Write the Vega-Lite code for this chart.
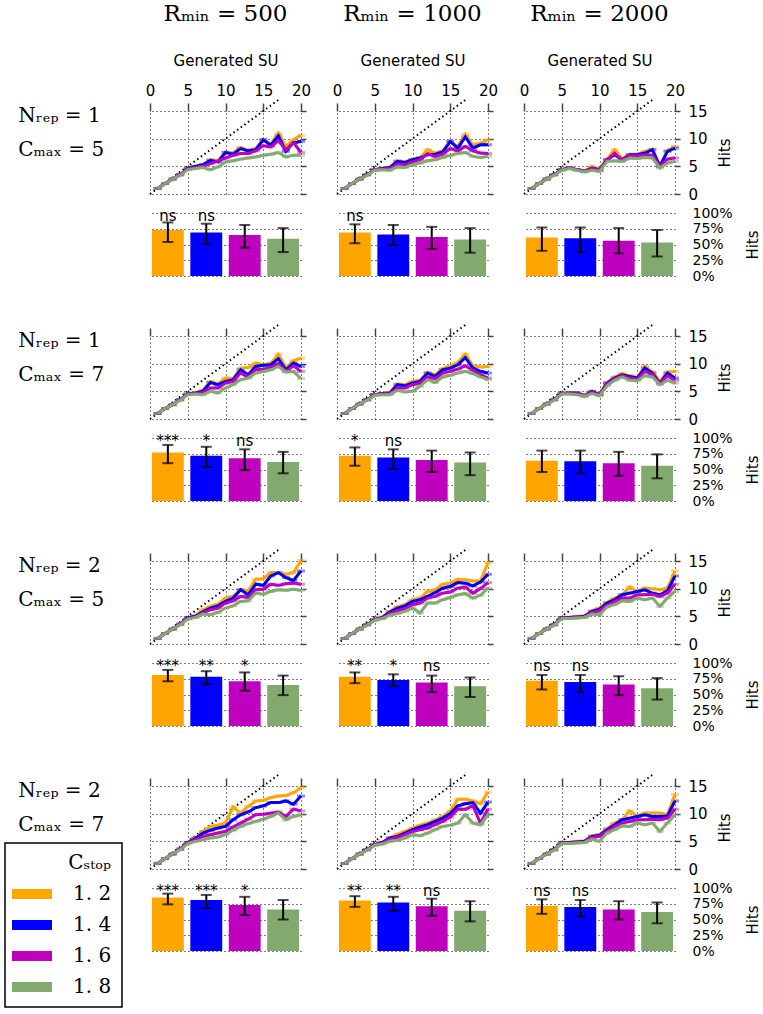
{
"$schema": "https://vega.github.io/schema/vega-lite/v6.json",
"padding": {"left": 0, "top": 3, "right": 0, "bottom": 0},
"background": "white",
"datasets": {
"diag": [{"x": 0, "y": 0}, {"x": 17, "y": 17}],
"empty": [],
"labels": [
{"p": "1,5", "t": "Nᵣₑₚ = 1\nCₘₐₓ = 5"},
{"p": "1,7", "t": "Nᵣₑₚ = 1\nCₘₐₓ = 7"},
{"p": "2,5", "t": "Nᵣₑₚ = 2\nCₘₐₓ = 5"},
{"p": "2,7", "t": "Nᵣₑₚ = 2\nCₘₐₓ = 7"}
],
"lines": [
{"r":500,"p":"1,5","c":"1.2","x":[1,2,3,4,5,6,7,8,9,10,11,12,13,14,15,16,17,18,19,20],"y":[1.0,1.9,2.7,3.5,4.6,5.0,5.3,6.2,6.0,7.6,7.4,8.4,7.9,8.2,9.9,9.0,11.0,8.6,9.8,10.6]},
{"r":500,"p":"1,5","c":"1.4","x":[1,2,3,4,5,6,7,8,9,10,11,12,13,14,15,16,17,18,19,20],"y":[1.0,1.9,2.7,3.5,4.6,5.0,5.3,6.1,5.8,7.5,7.2,8.2,7.8,8.0,9.8,8.8,10.5,7.7,9.3,9.5]},
{"r":500,"p":"1,5","c":"1.6","x":[1,2,3,4,5,6,7,8,9,10,11,12,13,14,15,16,17,18,19,20],"y":[1.0,1.9,2.7,3.5,4.5,4.8,5.0,5.5,6.0,6.5,7.0,7.3,7.3,7.8,8.7,8.5,9.6,8.0,9.3,7.5]},
{"r":500,"p":"1,5","c":"1.8","x":[1,2,3,4,5,6,7,8,9,10,11,12,13,14,15,16,17,18,19,20],"y":[1.0,1.9,2.7,3.4,4.4,4.6,4.8,4.4,4.9,5.8,6.0,6.3,6.5,6.7,7.0,7.2,7.5,6.7,7.0,7.0]},
{"r":1000,"p":"1,5","c":"1.2","x":[1,2,3,4,5,6,7,8,9,10,11,12,13,14,15,16,17,18,19,20],"y":[1.0,1.9,2.7,3.5,4.4,4.6,4.8,6.0,5.8,6.3,6.6,8.0,7.4,7.8,9.4,8.6,10.8,8.9,9.2,9.8]},
{"r":1000,"p":"1,5","c":"1.4","x":[1,2,3,4,5,6,7,8,9,10,11,12,13,14,15,16,17,18,19,20],"y":[1.0,1.9,2.7,3.5,4.4,4.6,4.8,5.9,5.7,6.2,6.5,7.1,7.2,7.6,9.5,8.3,10.3,8.3,8.9,8.9]},
{"r":1000,"p":"1,5","c":"1.6","x":[1,2,3,4,5,6,7,8,9,10,11,12,13,14,15,16,17,18,19,20],"y":[1.0,1.9,2.7,3.5,4.4,4.5,4.6,5.4,5.3,5.8,6.2,7.3,6.8,7.2,8.2,7.8,8.6,7.8,7.4,7.3]},
{"r":1000,"p":"1,5","c":"1.8","x":[1,2,3,4,5,6,7,8,9,10,11,12,13,14,15,16,17,18,19,20],"y":[1.0,1.9,2.7,3.4,4.3,4.4,4.3,4.9,4.8,5.3,5.6,6.0,6.2,6.6,7.0,7.3,7.5,6.8,6.6,6.8]},
{"r":2000,"p":"1,5","c":"1.2","x":[1,2,3,4,5,6,7,8,9,10,11,12,13,14,15,16,17,18,19,20],"y":[1.0,1.9,2.7,3.5,4.4,4.7,4.4,4.1,5.0,4.5,6.3,8.0,6.4,7.2,7.2,7.7,8.1,5.2,7.9,8.6]},
{"r":2000,"p":"1,5","c":"1.4","x":[1,2,3,4,5,6,7,8,9,10,11,12,13,14,15,16,17,18,19,20],"y":[1.0,1.9,2.7,3.5,4.4,4.7,4.4,4.1,4.7,4.4,6.2,7.1,6.2,7.1,7.1,7.4,8.0,5.0,7.7,8.3]},
{"r":2000,"p":"1,5","c":"1.6","x":[1,2,3,4,5,6,7,8,9,10,11,12,13,14,15,16,17,18,19,20],"y":[1.0,1.9,2.7,3.5,4.4,4.7,4.4,4.1,4.6,4.3,6.1,7.4,6.1,6.9,6.9,7.1,7.0,5.0,6.3,6.5]},
{"r":2000,"p":"1,5","c":"1.8","x":[1,2,3,4,5,6,7,8,9,10,11,12,13,14,15,16,17,18,19,20],"y":[1.0,1.9,2.7,3.4,4.3,4.6,4.3,4.0,4.3,4.1,5.9,6.0,5.9,6.5,6.4,6.6,6.5,4.7,5.6,5.9]},
{"r":500,"p":"1,7","c":"1.2","x":[1,2,3,4,5,6,7,8,9,10,11,12,13,14,15,16,17,18,19,20],"y":[1.0,1.9,2.6,3.5,4.5,4.7,5.2,6.8,6.4,7.4,7.3,9.2,9.3,10.1,9.8,10.1,11.7,9.3,10.5,11.0]},
{"r":500,"p":"1,7","c":"1.4","x":[1,2,3,4,5,6,7,8,9,10,11,12,13,14,15,16,17,18,19,20],"y":[1.0,1.9,2.6,3.5,4.5,4.7,5.0,6.6,6.2,6.8,7.1,8.9,8.0,9.5,9.7,9.8,10.9,8.9,10.1,9.5]},
{"r":500,"p":"1,7","c":"1.6","x":[1,2,3,4,5,6,7,8,9,10,11,12,13,14,15,16,17,18,19,20],"y":[1.0,1.9,2.6,3.5,4.5,4.6,4.8,5.6,5.6,6.5,6.8,8.3,7.6,8.9,9.0,9.3,10.0,8.6,9.6,8.6]},
{"r":500,"p":"1,7","c":"1.8","x":[1,2,3,4,5,6,7,8,9,10,11,12,13,14,15,16,17,18,19,20],"y":[1.0,1.9,2.6,3.4,4.4,4.5,4.4,5.0,4.7,5.6,6.2,7.1,7.4,8.3,8.6,8.9,9.5,8.5,8.6,7.3]},
{"r":1000,"p":"1,7","c":"1.2","x":[1,2,3,4,5,6,7,8,9,10,11,12,13,14,15,16,17,18,19,20],"y":[1.0,1.9,2.7,3.5,4.4,4.6,4.8,6.3,6.2,6.8,7.0,8.4,8.0,9.1,9.6,10.2,11.7,9.6,9.4,9.5]},
{"r":1000,"p":"1,7","c":"1.4","x":[1,2,3,4,5,6,7,8,9,10,11,12,13,14,15,16,17,18,19,20],"y":[1.0,1.9,2.7,3.5,4.4,4.6,4.7,6.2,6.0,6.5,6.8,8.3,7.7,8.9,9.2,9.8,11.1,9.2,8.6,8.3]},
{"r":1000,"p":"1,7","c":"1.6","x":[1,2,3,4,5,6,7,8,9,10,11,12,13,14,15,16,17,18,19,20],"y":[1.0,1.9,2.7,3.5,4.4,4.5,4.6,5.6,5.6,6.2,6.5,7.6,7.3,8.3,8.6,9.0,9.6,8.8,8.0,7.4]},
{"r":1000,"p":"1,7","c":"1.8","x":[1,2,3,4,5,6,7,8,9,10,11,12,13,14,15,16,17,18,19,20],"y":[1.0,1.9,2.7,3.4,4.3,4.4,4.4,5.2,4.9,5.0,5.9,7.1,6.6,7.6,7.9,8.3,8.6,8.2,7.6,7.1]},
{"r":2000,"p":"1,7","c":"1.2","x":[1,2,3,4,5,6,7,8,9,10,11,12,13,14,15,16,17,18,19,20],"y":[1.0,1.9,2.7,3.5,4.6,4.7,4.7,4.3,5.0,4.5,6.6,7.6,8.2,7.8,7.5,9.5,8.5,6.8,8.5,8.6]},
{"r":2000,"p":"1,7","c":"1.4","x":[1,2,3,4,5,6,7,8,9,10,11,12,13,14,15,16,17,18,19,20],"y":[1.0,1.9,2.7,3.5,4.6,4.7,4.7,4.2,5.0,4.4,6.5,7.4,8.0,7.7,7.4,9.2,8.3,6.5,8.3,7.4]},
{"r":2000,"p":"1,7","c":"1.6","x":[1,2,3,4,5,6,7,8,9,10,11,12,13,14,15,16,17,18,19,20],"y":[1.0,1.9,2.7,3.5,4.6,4.6,4.6,4.2,4.8,4.4,6.3,7.2,7.8,7.4,7.2,8.6,8.0,6.5,7.8,7.0]},
{"r":2000,"p":"1,7","c":"1.8","x":[1,2,3,4,5,6,7,8,9,10,11,12,13,14,15,16,17,18,19,20],"y":[1.0,1.9,2.7,3.4,4.5,4.5,4.4,4.1,4.6,4.2,6.0,7.0,7.6,7.0,6.9,7.8,7.6,6.2,7.0,6.5]},
{"r":500,"p":"2,5","c":"1.2","x":[1,2,3,4,5,6,7,8,9,10,11,12,13,14,15,16,17,18,19,20],"y":[1.0,1.9,2.7,3.6,4.7,5.1,6.2,6.8,7.2,8.3,8.6,9.8,9.6,11.7,11.8,12.9,12.9,12.6,12.9,15.1]},
{"r":500,"p":"2,5","c":"1.4","x":[1,2,3,4,5,6,7,8,9,10,11,12,13,14,15,16,17,18,19,20],"y":[1.0,1.9,2.7,3.6,4.7,5.0,5.8,6.5,6.9,7.7,8.3,9.8,8.9,10.8,10.6,12.3,12.9,12.0,11.5,13.2]},
{"r":500,"p":"2,5","c":"1.6","x":[1,2,3,4,5,6,7,8,9,10,11,12,13,14,15,16,17,18,19,20],"y":[1.0,1.9,2.7,3.6,4.6,4.9,5.6,6.2,6.5,7.4,7.8,8.6,8.4,9.8,9.9,10.8,10.6,10.9,11.0,10.8]},
{"r":500,"p":"2,5","c":"1.8","x":[1,2,3,4,5,6,7,8,9,10,11,12,13,14,15,16,17,18,19,20],"y":[1.0,1.9,2.7,3.5,4.5,4.8,5.4,5.3,5.7,6.5,6.9,7.7,7.8,9.2,9.0,9.5,9.8,9.7,9.9,9.7]},
{"r":1000,"p":"2,5","c":"1.2","x":[1,2,3,4,5,6,7,8,9,10,11,12,13,14,15,16,17,18,19,20],"y":[1.0,1.9,2.7,3.5,4.4,4.9,5.9,6.7,7.1,8.0,8.3,9.5,9.8,10.8,11.0,11.7,11.6,11.4,11.4,14.7]},
{"r":1000,"p":"2,5","c":"1.4","x":[1,2,3,4,5,6,7,8,9,10,11,12,13,14,15,16,17,18,19,20],"y":[1.0,1.9,2.7,3.5,4.4,4.8,5.8,6.5,6.9,7.7,8.0,8.6,9.3,10.1,10.4,11.1,11.0,10.5,11.2,12.6]},
{"r":1000,"p":"2,5","c":"1.6","x":[1,2,3,4,5,6,7,8,9,10,11,12,13,14,15,16,17,18,19,20],"y":[1.0,1.9,2.7,3.5,4.4,4.7,5.5,6.0,6.4,7.1,7.4,8.3,8.6,9.2,9.4,10.1,10.3,9.2,10.0,11.1]},
{"r":1000,"p":"2,5","c":"1.8","x":[1,2,3,4,5,6,7,8,9,10,11,12,13,14,15,16,17,18,19,20],"y":[1.0,1.9,2.7,3.4,4.3,4.6,5.2,5.5,5.9,6.5,5.6,7.4,7.4,8.0,8.4,8.9,9.1,8.3,8.8,10.1]},
{"r":2000,"p":"2,5","c":"1.2","x":[1,2,3,4,5,6,7,8,9,10,11,12,13,14,15,16,17,18,19,20],"y":[1.0,1.9,2.7,3.5,4.7,4.8,5.0,5.0,6.0,6.5,7.5,8.3,8.9,10.3,9.5,10.1,10.0,9.8,10.1,13.2]},
{"r":2000,"p":"2,5","c":"1.4","x":[1,2,3,4,5,6,7,8,9,10,11,12,13,14,15,16,17,18,19,20],"y":[1.0,1.9,2.7,3.5,4.7,4.8,4.9,5.0,5.9,6.3,7.4,8.0,8.9,9.2,9.5,9.8,9.2,8.9,9.6,12.3]},
{"r":2000,"p":"2,5","c":"1.6","x":[1,2,3,4,5,6,7,8,9,10,11,12,13,14,15,16,17,18,19,20],"y":[1.0,1.9,2.7,3.5,4.7,4.7,4.8,4.9,5.7,6.0,7.0,7.7,8.3,8.3,8.9,8.9,9.0,8.6,9.2,10.8]},
{"r":2000,"p":"2,5","c":"1.8","x":[1,2,3,4,5,6,7,8,9,10,11,12,13,14,15,16,17,18,19,20],"y":[1.0,1.9,2.7,3.4,4.6,4.6,4.7,4.8,5.4,5.3,6.7,7.1,7.8,7.7,8.3,8.0,8.3,6.8,8.3,9.5]},
{"r":500,"p":"2,7","c":"1.2","x":[1,2,3,4,5,6,7,8,9,10,11,12,13,14,15,16,17,18,19,20],"y":[1.0,1.9,2.7,3.6,4.8,5.6,6.8,7.7,7.9,8.3,11.2,10.1,11.3,12.3,12.4,12.9,13.2,13.3,13.8,14.7]},
{"r":500,"p":"2,7","c":"1.4","x":[1,2,3,4,5,6,7,8,9,10,11,12,13,14,15,16,17,18,19,20],"y":[1.0,1.9,2.7,3.6,4.8,5.5,6.5,7.0,7.4,7.7,8.9,9.8,10.3,11.1,11.4,12.0,12.0,12.3,11.7,13.2]},
{"r":500,"p":"2,7","c":"1.6","x":[1,2,3,4,5,6,7,8,9,10,11,12,13,14,15,16,17,18,19,20],"y":[1.0,1.9,2.7,3.6,4.7,5.3,5.9,6.2,6.5,6.8,7.6,8.3,9.0,9.8,9.9,10.1,10.3,9.5,10.8,10.5]},
{"r":500,"p":"2,7","c":"1.8","x":[1,2,3,4,5,6,7,8,9,10,11,12,13,14,15,16,17,18,19,20],"y":[1.0,1.9,2.7,3.5,4.6,5.0,5.3,5.6,5.8,6.2,7.0,7.7,8.2,8.6,9.0,9.5,10.1,8.9,9.5,9.8]},
{"r":1000,"p":"2,7","c":"1.2","x":[1,2,3,4,5,6,7,8,9,10,11,12,13,14,15,16,17,18,19,20],"y":[1.0,1.9,2.7,3.5,4.4,4.8,5.6,6.3,6.8,7.4,7.9,8.3,8.9,9.5,10.5,12.6,12.6,12.3,11.8,13.9]},
{"r":1000,"p":"2,7","c":"1.4","x":[1,2,3,4,5,6,7,8,9,10,11,12,13,14,15,16,17,18,19,20],"y":[1.0,1.9,2.7,3.5,4.4,4.8,5.6,5.9,6.5,7.1,7.6,8.0,8.6,9.2,10.0,11.4,11.8,12.0,10.1,12.1]},
{"r":1000,"p":"2,7","c":"1.6","x":[1,2,3,4,5,6,7,8,9,10,11,12,13,14,15,16,17,18,19,20],"y":[1.0,1.9,2.7,3.5,4.4,4.7,5.4,5.7,6.2,6.8,7.1,7.4,8.0,8.6,9.4,10.8,10.8,11.4,8.3,10.8]},
{"r":1000,"p":"2,7","c":"1.8","x":[1,2,3,4,5,6,7,8,9,10,11,12,13,14,15,16,17,18,19,20],"y":[1.0,1.9,2.7,3.4,4.3,4.5,5.0,5.2,5.6,6.2,6.0,6.5,7.1,7.7,7.9,8.3,9.8,8.3,8.0,9.8]},
{"r":2000,"p":"2,7","c":"1.2","x":[1,2,3,4,5,6,7,8,9,10,11,12,13,14,15,16,17,18,19,20],"y":[1.0,1.9,2.7,3.5,4.7,4.8,5.0,5.0,6.0,6.2,7.3,8.3,8.9,10.5,9.6,10.1,10.1,10.1,9.8,13.5]},
{"r":2000,"p":"2,7","c":"1.4","x":[1,2,3,4,5,6,7,8,9,10,11,12,13,14,15,16,17,18,19,20],"y":[1.0,1.9,2.7,3.5,4.7,4.8,4.9,5.0,5.9,6.1,7.1,8.0,8.9,9.2,9.5,9.8,9.5,9.5,9.6,12.3]},
{"r":2000,"p":"2,7","c":"1.6","x":[1,2,3,4,5,6,7,8,9,10,11,12,13,14,15,16,17,18,19,20],"y":[1.0,1.9,2.7,3.5,4.7,4.7,4.8,4.9,5.7,5.9,6.8,7.7,8.3,8.6,8.9,8.9,9.0,8.9,9.2,10.8]},
{"r":2000,"p":"2,7","c":"1.8","x":[1,2,3,4,5,6,7,8,9,10,11,12,13,14,15,16,17,18,19,20],"y":[1.0,1.9,2.7,3.4,4.6,4.6,4.7,4.8,5.4,5.0,6.5,7.1,7.8,7.7,8.3,8.0,8.3,6.8,8.3,9.8]}
],
"bars": [
{"r":500,"p":"1,5","c":"1.2","v":0.73,"lo":0.54,"hi":0.85,"s":"ns"},
{"r":500,"p":"1,5","c":"1.4","v":0.69,"lo":0.51,"hi":0.83,"s":"ns"},
{"r":500,"p":"1,5","c":"1.6","v":0.65,"lo":0.45,"hi":0.81,"s":""},
{"r":500,"p":"1,5","c":"1.8","v":0.59,"lo":0.38,"hi":0.76,"s":""},
{"r":1000,"p":"1,5","c":"1.2","v":0.69,"lo":0.52,"hi":0.82,"s":"ns"},
{"r":1000,"p":"1,5","c":"1.4","v":0.66,"lo":0.49,"hi":0.81,"s":""},
{"r":1000,"p":"1,5","c":"1.6","v":0.62,"lo":0.43,"hi":0.78,"s":""},
{"r":1000,"p":"1,5","c":"1.8","v":0.58,"lo":0.37,"hi":0.76,"s":""},
{"r":2000,"p":"1,5","c":"1.2","v":0.61,"lo":0.40,"hi":0.77,"s":""},
{"r":2000,"p":"1,5","c":"1.4","v":0.60,"lo":0.38,"hi":0.77,"s":""},
{"r":2000,"p":"1,5","c":"1.6","v":0.56,"lo":0.36,"hi":0.76,"s":""},
{"r":2000,"p":"1,5","c":"1.8","v":0.53,"lo":0.31,"hi":0.73,"s":""},
{"r":500,"p":"1,7","c":"1.2","v":0.77,"lo":0.60,"hi":0.89,"s":"***"},
{"r":500,"p":"1,7","c":"1.4","v":0.72,"lo":0.54,"hi":0.86,"s":"*"},
{"r":500,"p":"1,7","c":"1.6","v":0.68,"lo":0.49,"hi":0.82,"s":"ns"},
{"r":500,"p":"1,7","c":"1.8","v":0.62,"lo":0.44,"hi":0.78,"s":""},
{"r":1000,"p":"1,7","c":"1.2","v":0.72,"lo":0.56,"hi":0.85,"s":"*"},
{"r":1000,"p":"1,7","c":"1.4","v":0.69,"lo":0.51,"hi":0.82,"s":"ns"},
{"r":1000,"p":"1,7","c":"1.6","v":0.65,"lo":0.46,"hi":0.80,"s":""},
{"r":1000,"p":"1,7","c":"1.8","v":0.61,"lo":0.41,"hi":0.77,"s":""},
{"r":2000,"p":"1,7","c":"1.2","v":0.64,"lo":0.46,"hi":0.80,"s":""},
{"r":2000,"p":"1,7","c":"1.4","v":0.63,"lo":0.44,"hi":0.80,"s":""},
{"r":2000,"p":"1,7","c":"1.6","v":0.60,"lo":0.40,"hi":0.78,"s":""},
{"r":2000,"p":"1,7","c":"1.8","v":0.56,"lo":0.36,"hi":0.74,"s":""},
{"r":500,"p":"2,5","c":"1.2","v":0.81,"lo":0.71,"hi":0.89,"s":"***"},
{"r":500,"p":"2,5","c":"1.4","v":0.78,"lo":0.66,"hi":0.87,"s":"**"},
{"r":500,"p":"2,5","c":"1.6","v":0.71,"lo":0.56,"hi":0.85,"s":"*"},
{"r":500,"p":"2,5","c":"1.8","v":0.65,"lo":0.49,"hi":0.80,"s":""},
{"r":1000,"p":"2,5","c":"1.2","v":0.78,"lo":0.68,"hi":0.85,"s":"**"},
{"r":1000,"p":"2,5","c":"1.4","v":0.73,"lo":0.63,"hi":0.82,"s":"*"},
{"r":1000,"p":"2,5","c":"1.6","v":0.69,"lo":0.54,"hi":0.80,"s":"ns"},
{"r":1000,"p":"2,5","c":"1.8","v":0.63,"lo":0.46,"hi":0.77,"s":""},
{"r":2000,"p":"2,5","c":"1.2","v":0.72,"lo":0.58,"hi":0.81,"s":"ns"},
{"r":2000,"p":"2,5","c":"1.4","v":0.70,"lo":0.54,"hi":0.81,"s":"ns"},
{"r":2000,"p":"2,5","c":"1.6","v":0.66,"lo":0.49,"hi":0.79,"s":""},
{"r":2000,"p":"2,5","c":"1.8","v":0.60,"lo":0.42,"hi":0.76,"s":""},
{"r":500,"p":"2,7","c":"1.2","v":0.85,"lo":0.74,"hi":0.91,"s":"***"},
{"r":500,"p":"2,7","c":"1.4","v":0.81,"lo":0.68,"hi":0.89,"s":"***"},
{"r":500,"p":"2,7","c":"1.6","v":0.73,"lo":0.57,"hi":0.86,"s":"*"},
{"r":500,"p":"2,7","c":"1.8","v":0.66,"lo":0.50,"hi":0.81,"s":""},
{"r":1000,"p":"2,7","c":"1.2","v":0.80,"lo":0.70,"hi":0.87,"s":"**"},
{"r":1000,"p":"2,7","c":"1.4","v":0.77,"lo":0.64,"hi":0.86,"s":"**"},
{"r":1000,"p":"2,7","c":"1.6","v":0.71,"lo":0.56,"hi":0.83,"s":"ns"},
{"r":1000,"p":"2,7","c":"1.8","v":0.64,"lo":0.47,"hi":0.79,"s":""},
{"r":2000,"p":"2,7","c":"1.2","v":0.72,"lo":0.59,"hi":0.82,"s":"ns"},
{"r":2000,"p":"2,7","c":"1.4","v":0.70,"lo":0.55,"hi":0.81,"s":"ns"},
{"r":2000,"p":"2,7","c":"1.6","v":0.66,"lo":0.50,"hi":0.79,"s":""},
{"r":2000,"p":"2,7","c":"1.8","v":0.62,"lo":0.44,"hi":0.77,"s":""}
]
},
"config": {
"view": {"stroke": null},
"font": "DejaVu Sans",
"range": {"category": ["#FFA500", "#0000FF", "#BF00BF", "#82AA6E"]},
"axis": {"grid": true, "gridColor": "#000", "gridDash": [1, 3], "gridWidth": 1, "gridOpacity": 1, "domain": false, "tickColor": "#444", "tickWidth": 1.5, "labelFont": "DejaVu Sans", "labelFontSize": 15, "labelColor": "#000", "labelOverlap": false, "labelBound": false, "labelFlush": false, "titleFont": "DejaVu Sans", "titleFontSize": 15, "titleFontWeight": "normal", "titleColor": "#000", "zindex": 1},
"title": {"font": "DejaVu Serif", "fontSize": 23, "fontWeight": "normal", "color": "#000", "anchor": "middle", "frame": "group", "offset": 27},
"text": {"font": "DejaVu Sans", "fontSize": 15, "color": "#000"},
"legend": {"orient": "none", "legendX": 5, "legendY": 732, "strokeColor": "#000", "strokeWidth": 1.5, "fillColor": "white", "padding": 10, "cornerRadius": 0, "titleFont": "DejaVu Serif", "titleFontSize": 20, "titleFontWeight": "normal", "titleColor": "#000", "titleAnchor": "end", "titlePadding": 11, "labelFont": "DejaVu Serif", "labelFontSize": 20, "labelColor": "#000", "labelOffset": 31, "symbolSize": 400, "symbolStrokeWidth": 0, "symbolOffset": 7, "rowPadding": 11, "symbolOpacity": 1}
},
"columns": 4,
"align": "each",
"bounds": "flush",
"spacing": {"row": 19, "column": 36},
"concat": [
{"width": 114, "height": 83, "data": {"name": "labels"}, "transform": [{"filter": "datum.p == '1,5'"}], "mark": {"type": "text", "align": "left", "baseline": "alphabetic", "font": "DejaVu Serif", "fontSize": 20, "lineHeight": 34, "lineBreak": "\n"}, "encoding": {"x": {"datum": 0.16, "type": "quantitative", "scale": {"domain": [0, 1]}, "axis": null}, "y": {"datum": 13, "type": "quantitative", "scale": {"domain": [0, 15]}, "axis": null}, "text": {"field": "t"}}},
{"width": 151, "height": 83, "title": "Rₘᵢₙ = 500", "encoding": {"x": {"field": "x", "type": "quantitative", "scale": {"domain": [0, 20], "nice": false}, "axis": {"orient": "top", "values": [0,5,10,15,20], "tickSize": 8, "labelPadding": 5, "title": "Generated SU", "titlePadding": 15}}, "y": {"field": "y", "type": "quantitative", "scale": {"domain": [0, 15], "nice": false}, "axis": {"orient": "right", "values": [0,5,10,15], "tickSize": 5, "labels": false, "title": null}}},
 "layer": [
 {"data": {"name": "diag"}, "mark": {"type": "line", "color": "#000", "strokeWidth": 2, "strokeDash": [1.5, 3], "clip": false}, "encoding": {}},
 {"data": {"name": "lines"}, "transform": [{"filter": "datum.p == '1,5' && datum.r == 500"}, {"flatten": ["x", "y"]}], "mark": {"type": "tick", "orient": "horizontal", "size": 8, "thickness": 3, "opacity": 0.45}, "encoding": {"fill": {"field": "c", "type": "nominal", "legend": null}}},
 {"data": {"name": "lines"}, "transform": [{"filter": "datum.p == '1,5' && datum.r == 500"}, {"flatten": ["x", "y"]}], "mark": {"type": "line", "strokeWidth": 3}, "encoding": {"stroke": {"field": "c", "type": "nominal", "legend": null}}}
 ]},
{"width": 151, "height": 83, "title": "Rₘᵢₙ = 1000", "encoding": {"x": {"field": "x", "type": "quantitative", "scale": {"domain": [0, 20], "nice": false}, "axis": {"orient": "top", "values": [0,5,10,15,20], "tickSize": 8, "labelPadding": 5, "title": "Generated SU", "titlePadding": 15}}, "y": {"field": "y", "type": "quantitative", "scale": {"domain": [0, 15], "nice": false}, "axis": {"orient": "right", "values": [0,5,10,15], "tickSize": 5, "labels": false, "title": null}}},
 "layer": [
 {"data": {"name": "diag"}, "mark": {"type": "line", "color": "#000", "strokeWidth": 2, "strokeDash": [1.5, 3], "clip": false}, "encoding": {}},
 {"data": {"name": "lines"}, "transform": [{"filter": "datum.p == '1,5' && datum.r == 1000"}, {"flatten": ["x", "y"]}], "mark": {"type": "tick", "orient": "horizontal", "size": 8, "thickness": 3, "opacity": 0.45}, "encoding": {"fill": {"field": "c", "type": "nominal", "legend": null}}},
 {"data": {"name": "lines"}, "transform": [{"filter": "datum.p == '1,5' && datum.r == 1000"}, {"flatten": ["x", "y"]}], "mark": {"type": "line", "strokeWidth": 3}, "encoding": {"stroke": {"field": "c", "type": "nominal", "legend": null}}}
 ]},
{"width": 151, "height": 83, "title": "Rₘᵢₙ = 2000", "encoding": {"x": {"field": "x", "type": "quantitative", "scale": {"domain": [0, 20], "nice": false}, "axis": {"orient": "top", "values": [0,5,10,15,20], "tickSize": 8, "labelPadding": 5, "title": "Generated SU", "titlePadding": 15}}, "y": {"field": "y", "type": "quantitative", "scale": {"domain": [0, 15], "nice": false}, "axis": {"orient": "right", "values": [0,5,10,15], "tickSize": 5, "labelPadding": 8, "title": "Hits", "titleAngle": 270, "titlePadding": 25}}},
 "layer": [
 {"data": {"name": "diag"}, "mark": {"type": "line", "color": "#000", "strokeWidth": 2, "strokeDash": [1.5, 3], "clip": false}, "encoding": {}},
 {"data": {"name": "lines"}, "transform": [{"filter": "datum.p == '1,5' && datum.r == 2000"}, {"flatten": ["x", "y"]}], "mark": {"type": "tick", "orient": "horizontal", "size": 8, "thickness": 3, "opacity": 0.45}, "encoding": {"fill": {"field": "c", "type": "nominal", "legend": null}}},
 {"data": {"name": "lines"}, "transform": [{"filter": "datum.p == '1,5' && datum.r == 2000"}, {"flatten": ["x", "y"]}], "mark": {"type": "line", "strokeWidth": 3}, "encoding": {"stroke": {"field": "c", "type": "nominal", "legend": null}}}
 ]},
{"width": 114, "height": 104, "data": {"name": "empty"}, "mark": {"type": "text"}, "encoding": {}},
{"width": 151, "height": 63, "data": {"name": "bars"}, "transform": [{"filter": "datum.p == '1,5' && datum.r == 500"}], "encoding": {"x": {"field": "c", "type": "nominal", "scale": {"paddingInner": 0.17, "paddingOuter": 0.05}, "axis": null}},
 "layer": [
 {"mark": {"type": "bar"}, "encoding": {"y": {"field": "v", "type": "quantitative", "stack": null, "scale": {"domain": [0, 1], "nice": false}, "axis": {"orient": "right", "values": [0,0.25,0.5,0.75,1], "tickCount": 5, "ticks": false, "labels": false, "title": null}}, "color": {"field": "c", "type": "nominal", "title": "Cₛₜₒₚ", "legend": {"symbolType": "M-2,-0.5H2V0.5H-2Z", "labelExpr": "replace(datum.label, '.', '. ')"}}}},
 {"mark": {"type": "rule", "color": "#000", "strokeWidth": 2}, "encoding": {"y": {"field": "lo", "type": "quantitative", "scale": {"domain": [0, 1], "nice": false}, "axis": {"orient": "right", "values": [0,0.25,0.5,0.75,1], "tickCount": 5, "ticks": false, "labels": false, "title": null}}, "y2": {"field": "hi"}}},
 {"mark": {"type": "tick", "orient": "horizontal", "color": "#000", "size": 11, "thickness": 2}, "encoding": {"y": {"field": "lo", "type": "quantitative", "scale": {"domain": [0, 1], "nice": false}, "axis": {"orient": "right", "values": [0,0.25,0.5,0.75,1], "tickCount": 5, "ticks": false, "labels": false, "title": null}}}},
 {"mark": {"type": "tick", "orient": "horizontal", "color": "#000", "size": 11, "thickness": 2}, "encoding": {"y": {"field": "hi", "type": "quantitative", "scale": {"domain": [0, 1], "nice": false}, "axis": {"orient": "right", "values": [0,0.25,0.5,0.75,1], "tickCount": 5, "ticks": false, "labels": false, "title": null}}}},
 {"mark": {"type": "text", "baseline": "alphabetic"}, "encoding": {"y": {"datum": 0.87, "type": "quantitative", "scale": {"domain": [0, 1], "nice": false}, "axis": {"orient": "right", "values": [0,0.25,0.5,0.75,1], "tickCount": 5, "ticks": false, "labels": false, "title": null}}, "text": {"field": "s"}}}
 ]},
{"width": 151, "height": 63, "data": {"name": "bars"}, "transform": [{"filter": "datum.p == '1,5' && datum.r == 1000"}], "encoding": {"x": {"field": "c", "type": "nominal", "scale": {"paddingInner": 0.17, "paddingOuter": 0.05}, "axis": null}},
 "layer": [
 {"mark": {"type": "bar"}, "encoding": {"y": {"field": "v", "type": "quantitative", "stack": null, "scale": {"domain": [0, 1], "nice": false}, "axis": {"orient": "right", "values": [0,0.25,0.5,0.75,1], "tickCount": 5, "ticks": false, "labels": false, "title": null}}, "color": {"field": "c", "type": "nominal", "title": "Cₛₜₒₚ", "legend": {"symbolType": "M-2,-0.5H2V0.5H-2Z", "labelExpr": "replace(datum.label, '.', '. ')"}}}},
 {"mark": {"type": "rule", "color": "#000", "strokeWidth": 2}, "encoding": {"y": {"field": "lo", "type": "quantitative", "scale": {"domain": [0, 1], "nice": false}, "axis": {"orient": "right", "values": [0,0.25,0.5,0.75,1], "tickCount": 5, "ticks": false, "labels": false, "title": null}}, "y2": {"field": "hi"}}},
 {"mark": {"type": "tick", "orient": "horizontal", "color": "#000", "size": 11, "thickness": 2}, "encoding": {"y": {"field": "lo", "type": "quantitative", "scale": {"domain": [0, 1], "nice": false}, "axis": {"orient": "right", "values": [0,0.25,0.5,0.75,1], "tickCount": 5, "ticks": false, "labels": false, "title": null}}}},
 {"mark": {"type": "tick", "orient": "horizontal", "color": "#000", "size": 11, "thickness": 2}, "encoding": {"y": {"field": "hi", "type": "quantitative", "scale": {"domain": [0, 1], "nice": false}, "axis": {"orient": "right", "values": [0,0.25,0.5,0.75,1], "tickCount": 5, "ticks": false, "labels": false, "title": null}}}},
 {"mark": {"type": "text", "baseline": "alphabetic"}, "encoding": {"y": {"datum": 0.87, "type": "quantitative", "scale": {"domain": [0, 1], "nice": false}, "axis": {"orient": "right", "values": [0,0.25,0.5,0.75,1], "tickCount": 5, "ticks": false, "labels": false, "title": null}}, "text": {"field": "s"}}}
 ]},
{"width": 151, "height": 63, "data": {"name": "bars"}, "transform": [{"filter": "datum.p == '1,5' && datum.r == 2000"}], "encoding": {"x": {"field": "c", "type": "nominal", "scale": {"paddingInner": 0.17, "paddingOuter": 0.05}, "axis": null}},
 "layer": [
 {"mark": {"type": "bar"}, "encoding": {"y": {"field": "v", "type": "quantitative", "stack": null, "scale": {"domain": [0, 1], "nice": false}, "axis": {"orient": "right", "values": [0,0.25,0.5,0.75,1], "tickCount": 5, "ticks": false, "format": ".0%", "labelFontSize": 14, "labelOverlap": false, "labelPadding": 17, "title": "Hits", "titleAngle": 270, "titlePadding": 28}}, "color": {"field": "c", "type": "nominal", "title": "Cₛₜₒₚ", "legend": {"symbolType": "M-2,-0.5H2V0.5H-2Z", "labelExpr": "replace(datum.label, '.', '. ')"}}}},
 {"mark": {"type": "rule", "color": "#000", "strokeWidth": 2}, "encoding": {"y": {"field": "lo", "type": "quantitative", "scale": {"domain": [0, 1], "nice": false}, "axis": {"orient": "right", "values": [0,0.25,0.5,0.75,1], "tickCount": 5, "ticks": false, "format": ".0%", "labelFontSize": 14, "labelOverlap": false, "labelPadding": 17, "title": "Hits", "titleAngle": 270, "titlePadding": 28}}, "y2": {"field": "hi"}}},
 {"mark": {"type": "tick", "orient": "horizontal", "color": "#000", "size": 11, "thickness": 2}, "encoding": {"y": {"field": "lo", "type": "quantitative", "scale": {"domain": [0, 1], "nice": false}, "axis": {"orient": "right", "values": [0,0.25,0.5,0.75,1], "tickCount": 5, "ticks": false, "format": ".0%", "labelFontSize": 14, "labelOverlap": false, "labelPadding": 17, "title": "Hits", "titleAngle": 270, "titlePadding": 28}}}},
 {"mark": {"type": "tick", "orient": "horizontal", "color": "#000", "size": 11, "thickness": 2}, "encoding": {"y": {"field": "hi", "type": "quantitative", "scale": {"domain": [0, 1], "nice": false}, "axis": {"orient": "right", "values": [0,0.25,0.5,0.75,1], "tickCount": 5, "ticks": false, "format": ".0%", "labelFontSize": 14, "labelOverlap": false, "labelPadding": 17, "title": "Hits", "titleAngle": 270, "titlePadding": 28}}}},
 {"mark": {"type": "text", "baseline": "alphabetic"}, "encoding": {"y": {"datum": 0.87, "type": "quantitative", "scale": {"domain": [0, 1], "nice": false}, "axis": {"orient": "right", "values": [0,0.25,0.5,0.75,1], "tickCount": 5, "ticks": false, "format": ".0%", "labelFontSize": 14, "labelOverlap": false, "labelPadding": 17, "title": "Hits", "titleAngle": 270, "titlePadding": 28}}, "text": {"field": "s"}}}
 ]},
{"width": 114, "height": 83, "data": {"name": "labels"}, "transform": [{"filter": "datum.p == '1,7'"}], "mark": {"type": "text", "align": "left", "baseline": "alphabetic", "font": "DejaVu Serif", "fontSize": 20, "lineHeight": 34, "lineBreak": "\n"}, "encoding": {"x": {"datum": 0.16, "type": "quantitative", "scale": {"domain": [0, 1]}, "axis": null}, "y": {"datum": 13, "type": "quantitative", "scale": {"domain": [0, 15]}, "axis": null}, "text": {"field": "t"}}},
{"width": 151, "height": 83, "encoding": {"x": {"field": "x", "type": "quantitative", "scale": {"domain": [0, 20], "nice": false}, "axis": {"orient": "top", "values": [0,5,10,15,20], "tickSize": 8, "labels": false, "title": null}}, "y": {"field": "y", "type": "quantitative", "scale": {"domain": [0, 15], "nice": false}, "axis": {"orient": "right", "values": [0,5,10,15], "tickSize": 5, "labels": false, "title": null}}},
 "layer": [
 {"data": {"name": "diag"}, "mark": {"type": "line", "color": "#000", "strokeWidth": 2, "strokeDash": [1.5, 3], "clip": false}, "encoding": {}},
 {"data": {"name": "lines"}, "transform": [{"filter": "datum.p == '1,7' && datum.r == 500"}, {"flatten": ["x", "y"]}], "mark": {"type": "tick", "orient": "horizontal", "size": 8, "thickness": 3, "opacity": 0.45}, "encoding": {"fill": {"field": "c", "type": "nominal", "legend": null}}},
 {"data": {"name": "lines"}, "transform": [{"filter": "datum.p == '1,7' && datum.r == 500"}, {"flatten": ["x", "y"]}], "mark": {"type": "line", "strokeWidth": 3}, "encoding": {"stroke": {"field": "c", "type": "nominal", "legend": null}}}
 ]},
{"width": 151, "height": 83, "encoding": {"x": {"field": "x", "type": "quantitative", "scale": {"domain": [0, 20], "nice": false}, "axis": {"orient": "top", "values": [0,5,10,15,20], "tickSize": 8, "labels": false, "title": null}}, "y": {"field": "y", "type": "quantitative", "scale": {"domain": [0, 15], "nice": false}, "axis": {"orient": "right", "values": [0,5,10,15], "tickSize": 5, "labels": false, "title": null}}},
 "layer": [
 {"data": {"name": "diag"}, "mark": {"type": "line", "color": "#000", "strokeWidth": 2, "strokeDash": [1.5, 3], "clip": false}, "encoding": {}},
 {"data": {"name": "lines"}, "transform": [{"filter": "datum.p == '1,7' && datum.r == 1000"}, {"flatten": ["x", "y"]}], "mark": {"type": "tick", "orient": "horizontal", "size": 8, "thickness": 3, "opacity": 0.45}, "encoding": {"fill": {"field": "c", "type": "nominal", "legend": null}}},
 {"data": {"name": "lines"}, "transform": [{"filter": "datum.p == '1,7' && datum.r == 1000"}, {"flatten": ["x", "y"]}], "mark": {"type": "line", "strokeWidth": 3}, "encoding": {"stroke": {"field": "c", "type": "nominal", "legend": null}}}
 ]},
{"width": 151, "height": 83, "encoding": {"x": {"field": "x", "type": "quantitative", "scale": {"domain": [0, 20], "nice": false}, "axis": {"orient": "top", "values": [0,5,10,15,20], "tickSize": 8, "labels": false, "title": null}}, "y": {"field": "y", "type": "quantitative", "scale": {"domain": [0, 15], "nice": false}, "axis": {"orient": "right", "values": [0,5,10,15], "tickSize": 5, "labelPadding": 8, "title": "Hits", "titleAngle": 270, "titlePadding": 25}}},
 "layer": [
 {"data": {"name": "diag"}, "mark": {"type": "line", "color": "#000", "strokeWidth": 2, "strokeDash": [1.5, 3], "clip": false}, "encoding": {}},
 {"data": {"name": "lines"}, "transform": [{"filter": "datum.p == '1,7' && datum.r == 2000"}, {"flatten": ["x", "y"]}], "mark": {"type": "tick", "orient": "horizontal", "size": 8, "thickness": 3, "opacity": 0.45}, "encoding": {"fill": {"field": "c", "type": "nominal", "legend": null}}},
 {"data": {"name": "lines"}, "transform": [{"filter": "datum.p == '1,7' && datum.r == 2000"}, {"flatten": ["x", "y"]}], "mark": {"type": "line", "strokeWidth": 3}, "encoding": {"stroke": {"field": "c", "type": "nominal", "legend": null}}}
 ]},
{"width": 114, "height": 104, "data": {"name": "empty"}, "mark": {"type": "text"}, "encoding": {}},
{"width": 151, "height": 63, "data": {"name": "bars"}, "transform": [{"filter": "datum.p == '1,7' && datum.r == 500"}], "encoding": {"x": {"field": "c", "type": "nominal", "scale": {"paddingInner": 0.17, "paddingOuter": 0.05}, "axis": null}},
 "layer": [
 {"mark": {"type": "bar"}, "encoding": {"y": {"field": "v", "type": "quantitative", "stack": null, "scale": {"domain": [0, 1], "nice": false}, "axis": {"orient": "right", "values": [0,0.25,0.5,0.75,1], "tickCount": 5, "ticks": false, "labels": false, "title": null}}, "color": {"field": "c", "type": "nominal", "title": "Cₛₜₒₚ", "legend": {"symbolType": "M-2,-0.5H2V0.5H-2Z", "labelExpr": "replace(datum.label, '.', '. ')"}}}},
 {"mark": {"type": "rule", "color": "#000", "strokeWidth": 2}, "encoding": {"y": {"field": "lo", "type": "quantitative", "scale": {"domain": [0, 1], "nice": false}, "axis": {"orient": "right", "values": [0,0.25,0.5,0.75,1], "tickCount": 5, "ticks": false, "labels": false, "title": null}}, "y2": {"field": "hi"}}},
 {"mark": {"type": "tick", "orient": "horizontal", "color": "#000", "size": 11, "thickness": 2}, "encoding": {"y": {"field": "lo", "type": "quantitative", "scale": {"domain": [0, 1], "nice": false}, "axis": {"orient": "right", "values": [0,0.25,0.5,0.75,1], "tickCount": 5, "ticks": false, "labels": false, "title": null}}}},
 {"mark": {"type": "tick", "orient": "horizontal", "color": "#000", "size": 11, "thickness": 2}, "encoding": {"y": {"field": "hi", "type": "quantitative", "scale": {"domain": [0, 1], "nice": false}, "axis": {"orient": "right", "values": [0,0.25,0.5,0.75,1], "tickCount": 5, "ticks": false, "labels": false, "title": null}}}},
 {"mark": {"type": "text", "baseline": "alphabetic"}, "encoding": {"y": {"datum": 0.87, "type": "quantitative", "scale": {"domain": [0, 1], "nice": false}, "axis": {"orient": "right", "values": [0,0.25,0.5,0.75,1], "tickCount": 5, "ticks": false, "labels": false, "title": null}}, "text": {"field": "s"}}}
 ]},
{"width": 151, "height": 63, "data": {"name": "bars"}, "transform": [{"filter": "datum.p == '1,7' && datum.r == 1000"}], "encoding": {"x": {"field": "c", "type": "nominal", "scale": {"paddingInner": 0.17, "paddingOuter": 0.05}, "axis": null}},
 "layer": [
 {"mark": {"type": "bar"}, "encoding": {"y": {"field": "v", "type": "quantitative", "stack": null, "scale": {"domain": [0, 1], "nice": false}, "axis": {"orient": "right", "values": [0,0.25,0.5,0.75,1], "tickCount": 5, "ticks": false, "labels": false, "title": null}}, "color": {"field": "c", "type": "nominal", "title": "Cₛₜₒₚ", "legend": {"symbolType": "M-2,-0.5H2V0.5H-2Z", "labelExpr": "replace(datum.label, '.', '. ')"}}}},
 {"mark": {"type": "rule", "color": "#000", "strokeWidth": 2}, "encoding": {"y": {"field": "lo", "type": "quantitative", "scale": {"domain": [0, 1], "nice": false}, "axis": {"orient": "right", "values": [0,0.25,0.5,0.75,1], "tickCount": 5, "ticks": false, "labels": false, "title": null}}, "y2": {"field": "hi"}}},
 {"mark": {"type": "tick", "orient": "horizontal", "color": "#000", "size": 11, "thickness": 2}, "encoding": {"y": {"field": "lo", "type": "quantitative", "scale": {"domain": [0, 1], "nice": false}, "axis": {"orient": "right", "values": [0,0.25,0.5,0.75,1], "tickCount": 5, "ticks": false, "labels": false, "title": null}}}},
 {"mark": {"type": "tick", "orient": "horizontal", "color": "#000", "size": 11, "thickness": 2}, "encoding": {"y": {"field": "hi", "type": "quantitative", "scale": {"domain": [0, 1], "nice": false}, "axis": {"orient": "right", "values": [0,0.25,0.5,0.75,1], "tickCount": 5, "ticks": false, "labels": false, "title": null}}}},
 {"mark": {"type": "text", "baseline": "alphabetic"}, "encoding": {"y": {"datum": 0.87, "type": "quantitative", "scale": {"domain": [0, 1], "nice": false}, "axis": {"orient": "right", "values": [0,0.25,0.5,0.75,1], "tickCount": 5, "ticks": false, "labels": false, "title": null}}, "text": {"field": "s"}}}
 ]},
{"width": 151, "height": 63, "data": {"name": "bars"}, "transform": [{"filter": "datum.p == '1,7' && datum.r == 2000"}], "encoding": {"x": {"field": "c", "type": "nominal", "scale": {"paddingInner": 0.17, "paddingOuter": 0.05}, "axis": null}},
 "layer": [
 {"mark": {"type": "bar"}, "encoding": {"y": {"field": "v", "type": "quantitative", "stack": null, "scale": {"domain": [0, 1], "nice": false}, "axis": {"orient": "right", "values": [0,0.25,0.5,0.75,1], "tickCount": 5, "ticks": false, "format": ".0%", "labelFontSize": 14, "labelOverlap": false, "labelPadding": 17, "title": "Hits", "titleAngle": 270, "titlePadding": 28}}, "color": {"field": "c", "type": "nominal", "title": "Cₛₜₒₚ", "legend": {"symbolType": "M-2,-0.5H2V0.5H-2Z", "labelExpr": "replace(datum.label, '.', '. ')"}}}},
 {"mark": {"type": "rule", "color": "#000", "strokeWidth": 2}, "encoding": {"y": {"field": "lo", "type": "quantitative", "scale": {"domain": [0, 1], "nice": false}, "axis": {"orient": "right", "values": [0,0.25,0.5,0.75,1], "tickCount": 5, "ticks": false, "format": ".0%", "labelFontSize": 14, "labelOverlap": false, "labelPadding": 17, "title": "Hits", "titleAngle": 270, "titlePadding": 28}}, "y2": {"field": "hi"}}},
 {"mark": {"type": "tick", "orient": "horizontal", "color": "#000", "size": 11, "thickness": 2}, "encoding": {"y": {"field": "lo", "type": "quantitative", "scale": {"domain": [0, 1], "nice": false}, "axis": {"orient": "right", "values": [0,0.25,0.5,0.75,1], "tickCount": 5, "ticks": false, "format": ".0%", "labelFontSize": 14, "labelOverlap": false, "labelPadding": 17, "title": "Hits", "titleAngle": 270, "titlePadding": 28}}}},
 {"mark": {"type": "tick", "orient": "horizontal", "color": "#000", "size": 11, "thickness": 2}, "encoding": {"y": {"field": "hi", "type": "quantitative", "scale": {"domain": [0, 1], "nice": false}, "axis": {"orient": "right", "values": [0,0.25,0.5,0.75,1], "tickCount": 5, "ticks": false, "format": ".0%", "labelFontSize": 14, "labelOverlap": false, "labelPadding": 17, "title": "Hits", "titleAngle": 270, "titlePadding": 28}}}},
 {"mark": {"type": "text", "baseline": "alphabetic"}, "encoding": {"y": {"datum": 0.87, "type": "quantitative", "scale": {"domain": [0, 1], "nice": false}, "axis": {"orient": "right", "values": [0,0.25,0.5,0.75,1], "tickCount": 5, "ticks": false, "format": ".0%", "labelFontSize": 14, "labelOverlap": false, "labelPadding": 17, "title": "Hits", "titleAngle": 270, "titlePadding": 28}}, "text": {"field": "s"}}}
 ]},
{"width": 114, "height": 83, "data": {"name": "labels"}, "transform": [{"filter": "datum.p == '2,5'"}], "mark": {"type": "text", "align": "left", "baseline": "alphabetic", "font": "DejaVu Serif", "fontSize": 20, "lineHeight": 34, "lineBreak": "\n"}, "encoding": {"x": {"datum": 0.16, "type": "quantitative", "scale": {"domain": [0, 1]}, "axis": null}, "y": {"datum": 13, "type": "quantitative", "scale": {"domain": [0, 15]}, "axis": null}, "text": {"field": "t"}}},
{"width": 151, "height": 83, "encoding": {"x": {"field": "x", "type": "quantitative", "scale": {"domain": [0, 20], "nice": false}, "axis": {"orient": "top", "values": [0,5,10,15,20], "tickSize": 8, "labels": false, "title": null}}, "y": {"field": "y", "type": "quantitative", "scale": {"domain": [0, 15], "nice": false}, "axis": {"orient": "right", "values": [0,5,10,15], "tickSize": 5, "labels": false, "title": null}}},
 "layer": [
 {"data": {"name": "diag"}, "mark": {"type": "line", "color": "#000", "strokeWidth": 2, "strokeDash": [1.5, 3], "clip": false}, "encoding": {}},
 {"data": {"name": "lines"}, "transform": [{"filter": "datum.p == '2,5' && datum.r == 500"}, {"flatten": ["x", "y"]}], "mark": {"type": "tick", "orient": "horizontal", "size": 8, "thickness": 3, "opacity": 0.45}, "encoding": {"fill": {"field": "c", "type": "nominal", "legend": null}}},
 {"data": {"name": "lines"}, "transform": [{"filter": "datum.p == '2,5' && datum.r == 500"}, {"flatten": ["x", "y"]}], "mark": {"type": "line", "strokeWidth": 3}, "encoding": {"stroke": {"field": "c", "type": "nominal", "legend": null}}}
 ]},
{"width": 151, "height": 83, "encoding": {"x": {"field": "x", "type": "quantitative", "scale": {"domain": [0, 20], "nice": false}, "axis": {"orient": "top", "values": [0,5,10,15,20], "tickSize": 8, "labels": false, "title": null}}, "y": {"field": "y", "type": "quantitative", "scale": {"domain": [0, 15], "nice": false}, "axis": {"orient": "right", "values": [0,5,10,15], "tickSize": 5, "labels": false, "title": null}}},
 "layer": [
 {"data": {"name": "diag"}, "mark": {"type": "line", "color": "#000", "strokeWidth": 2, "strokeDash": [1.5, 3], "clip": false}, "encoding": {}},
 {"data": {"name": "lines"}, "transform": [{"filter": "datum.p == '2,5' && datum.r == 1000"}, {"flatten": ["x", "y"]}], "mark": {"type": "tick", "orient": "horizontal", "size": 8, "thickness": 3, "opacity": 0.45}, "encoding": {"fill": {"field": "c", "type": "nominal", "legend": null}}},
 {"data": {"name": "lines"}, "transform": [{"filter": "datum.p == '2,5' && datum.r == 1000"}, {"flatten": ["x", "y"]}], "mark": {"type": "line", "strokeWidth": 3}, "encoding": {"stroke": {"field": "c", "type": "nominal", "legend": null}}}
 ]},
{"width": 151, "height": 83, "encoding": {"x": {"field": "x", "type": "quantitative", "scale": {"domain": [0, 20], "nice": false}, "axis": {"orient": "top", "values": [0,5,10,15,20], "tickSize": 8, "labels": false, "title": null}}, "y": {"field": "y", "type": "quantitative", "scale": {"domain": [0, 15], "nice": false}, "axis": {"orient": "right", "values": [0,5,10,15], "tickSize": 5, "labelPadding": 8, "title": "Hits", "titleAngle": 270, "titlePadding": 25}}},
 "layer": [
 {"data": {"name": "diag"}, "mark": {"type": "line", "color": "#000", "strokeWidth": 2, "strokeDash": [1.5, 3], "clip": false}, "encoding": {}},
 {"data": {"name": "lines"}, "transform": [{"filter": "datum.p == '2,5' && datum.r == 2000"}, {"flatten": ["x", "y"]}], "mark": {"type": "tick", "orient": "horizontal", "size": 8, "thickness": 3, "opacity": 0.45}, "encoding": {"fill": {"field": "c", "type": "nominal", "legend": null}}},
 {"data": {"name": "lines"}, "transform": [{"filter": "datum.p == '2,5' && datum.r == 2000"}, {"flatten": ["x", "y"]}], "mark": {"type": "line", "strokeWidth": 3}, "encoding": {"stroke": {"field": "c", "type": "nominal", "legend": null}}}
 ]},
{"width": 114, "height": 104, "data": {"name": "empty"}, "mark": {"type": "text"}, "encoding": {}},
{"width": 151, "height": 63, "data": {"name": "bars"}, "transform": [{"filter": "datum.p == '2,5' && datum.r == 500"}], "encoding": {"x": {"field": "c", "type": "nominal", "scale": {"paddingInner": 0.17, "paddingOuter": 0.05}, "axis": null}},
 "layer": [
 {"mark": {"type": "bar"}, "encoding": {"y": {"field": "v", "type": "quantitative", "stack": null, "scale": {"domain": [0, 1], "nice": false}, "axis": {"orient": "right", "values": [0,0.25,0.5,0.75,1], "tickCount": 5, "ticks": false, "labels": false, "title": null}}, "color": {"field": "c", "type": "nominal", "title": "Cₛₜₒₚ", "legend": {"symbolType": "M-2,-0.5H2V0.5H-2Z", "labelExpr": "replace(datum.label, '.', '. ')"}}}},
 {"mark": {"type": "rule", "color": "#000", "strokeWidth": 2}, "encoding": {"y": {"field": "lo", "type": "quantitative", "scale": {"domain": [0, 1], "nice": false}, "axis": {"orient": "right", "values": [0,0.25,0.5,0.75,1], "tickCount": 5, "ticks": false, "labels": false, "title": null}}, "y2": {"field": "hi"}}},
 {"mark": {"type": "tick", "orient": "horizontal", "color": "#000", "size": 11, "thickness": 2}, "encoding": {"y": {"field": "lo", "type": "quantitative", "scale": {"domain": [0, 1], "nice": false}, "axis": {"orient": "right", "values": [0,0.25,0.5,0.75,1], "tickCount": 5, "ticks": false, "labels": false, "title": null}}}},
 {"mark": {"type": "tick", "orient": "horizontal", "color": "#000", "size": 11, "thickness": 2}, "encoding": {"y": {"field": "hi", "type": "quantitative", "scale": {"domain": [0, 1], "nice": false}, "axis": {"orient": "right", "values": [0,0.25,0.5,0.75,1], "tickCount": 5, "ticks": false, "labels": false, "title": null}}}},
 {"mark": {"type": "text", "baseline": "alphabetic"}, "encoding": {"y": {"datum": 0.87, "type": "quantitative", "scale": {"domain": [0, 1], "nice": false}, "axis": {"orient": "right", "values": [0,0.25,0.5,0.75,1], "tickCount": 5, "ticks": false, "labels": false, "title": null}}, "text": {"field": "s"}}}
 ]},
{"width": 151, "height": 63, "data": {"name": "bars"}, "transform": [{"filter": "datum.p == '2,5' && datum.r == 1000"}], "encoding": {"x": {"field": "c", "type": "nominal", "scale": {"paddingInner": 0.17, "paddingOuter": 0.05}, "axis": null}},
 "layer": [
 {"mark": {"type": "bar"}, "encoding": {"y": {"field": "v", "type": "quantitative", "stack": null, "scale": {"domain": [0, 1], "nice": false}, "axis": {"orient": "right", "values": [0,0.25,0.5,0.75,1], "tickCount": 5, "ticks": false, "labels": false, "title": null}}, "color": {"field": "c", "type": "nominal", "title": "Cₛₜₒₚ", "legend": {"symbolType": "M-2,-0.5H2V0.5H-2Z", "labelExpr": "replace(datum.label, '.', '. ')"}}}},
 {"mark": {"type": "rule", "color": "#000", "strokeWidth": 2}, "encoding": {"y": {"field": "lo", "type": "quantitative", "scale": {"domain": [0, 1], "nice": false}, "axis": {"orient": "right", "values": [0,0.25,0.5,0.75,1], "tickCount": 5, "ticks": false, "labels": false, "title": null}}, "y2": {"field": "hi"}}},
 {"mark": {"type": "tick", "orient": "horizontal", "color": "#000", "size": 11, "thickness": 2}, "encoding": {"y": {"field": "lo", "type": "quantitative", "scale": {"domain": [0, 1], "nice": false}, "axis": {"orient": "right", "values": [0,0.25,0.5,0.75,1], "tickCount": 5, "ticks": false, "labels": false, "title": null}}}},
 {"mark": {"type": "tick", "orient": "horizontal", "color": "#000", "size": 11, "thickness": 2}, "encoding": {"y": {"field": "hi", "type": "quantitative", "scale": {"domain": [0, 1], "nice": false}, "axis": {"orient": "right", "values": [0,0.25,0.5,0.75,1], "tickCount": 5, "ticks": false, "labels": false, "title": null}}}},
 {"mark": {"type": "text", "baseline": "alphabetic"}, "encoding": {"y": {"datum": 0.87, "type": "quantitative", "scale": {"domain": [0, 1], "nice": false}, "axis": {"orient": "right", "values": [0,0.25,0.5,0.75,1], "tickCount": 5, "ticks": false, "labels": false, "title": null}}, "text": {"field": "s"}}}
 ]},
{"width": 151, "height": 63, "data": {"name": "bars"}, "transform": [{"filter": "datum.p == '2,5' && datum.r == 2000"}], "encoding": {"x": {"field": "c", "type": "nominal", "scale": {"paddingInner": 0.17, "paddingOuter": 0.05}, "axis": null}},
 "layer": [
 {"mark": {"type": "bar"}, "encoding": {"y": {"field": "v", "type": "quantitative", "stack": null, "scale": {"domain": [0, 1], "nice": false}, "axis": {"orient": "right", "values": [0,0.25,0.5,0.75,1], "tickCount": 5, "ticks": false, "format": ".0%", "labelFontSize": 14, "labelOverlap": false, "labelPadding": 17, "title": "Hits", "titleAngle": 270, "titlePadding": 28}}, "color": {"field": "c", "type": "nominal", "title": "Cₛₜₒₚ", "legend": {"symbolType": "M-2,-0.5H2V0.5H-2Z", "labelExpr": "replace(datum.label, '.', '. ')"}}}},
 {"mark": {"type": "rule", "color": "#000", "strokeWidth": 2}, "encoding": {"y": {"field": "lo", "type": "quantitative", "scale": {"domain": [0, 1], "nice": false}, "axis": {"orient": "right", "values": [0,0.25,0.5,0.75,1], "tickCount": 5, "ticks": false, "format": ".0%", "labelFontSize": 14, "labelOverlap": false, "labelPadding": 17, "title": "Hits", "titleAngle": 270, "titlePadding": 28}}, "y2": {"field": "hi"}}},
 {"mark": {"type": "tick", "orient": "horizontal", "color": "#000", "size": 11, "thickness": 2}, "encoding": {"y": {"field": "lo", "type": "quantitative", "scale": {"domain": [0, 1], "nice": false}, "axis": {"orient": "right", "values": [0,0.25,0.5,0.75,1], "tickCount": 5, "ticks": false, "format": ".0%", "labelFontSize": 14, "labelOverlap": false, "labelPadding": 17, "title": "Hits", "titleAngle": 270, "titlePadding": 28}}}},
 {"mark": {"type": "tick", "orient": "horizontal", "color": "#000", "size": 11, "thickness": 2}, "encoding": {"y": {"field": "hi", "type": "quantitative", "scale": {"domain": [0, 1], "nice": false}, "axis": {"orient": "right", "values": [0,0.25,0.5,0.75,1], "tickCount": 5, "ticks": false, "format": ".0%", "labelFontSize": 14, "labelOverlap": false, "labelPadding": 17, "title": "Hits", "titleAngle": 270, "titlePadding": 28}}}},
 {"mark": {"type": "text", "baseline": "alphabetic"}, "encoding": {"y": {"datum": 0.87, "type": "quantitative", "scale": {"domain": [0, 1], "nice": false}, "axis": {"orient": "right", "values": [0,0.25,0.5,0.75,1], "tickCount": 5, "ticks": false, "format": ".0%", "labelFontSize": 14, "labelOverlap": false, "labelPadding": 17, "title": "Hits", "titleAngle": 270, "titlePadding": 28}}, "text": {"field": "s"}}}
 ]},
{"width": 114, "height": 83, "data": {"name": "labels"}, "transform": [{"filter": "datum.p == '2,7'"}], "mark": {"type": "text", "align": "left", "baseline": "alphabetic", "font": "DejaVu Serif", "fontSize": 20, "lineHeight": 34, "lineBreak": "\n"}, "encoding": {"x": {"datum": 0.16, "type": "quantitative", "scale": {"domain": [0, 1]}, "axis": null}, "y": {"datum": 13, "type": "quantitative", "scale": {"domain": [0, 15]}, "axis": null}, "text": {"field": "t"}}},
{"width": 151, "height": 83, "encoding": {"x": {"field": "x", "type": "quantitative", "scale": {"domain": [0, 20], "nice": false}, "axis": {"orient": "top", "values": [0,5,10,15,20], "tickSize": 8, "labels": false, "title": null}}, "y": {"field": "y", "type": "quantitative", "scale": {"domain": [0, 15], "nice": false}, "axis": {"orient": "right", "values": [0,5,10,15], "tickSize": 5, "labels": false, "title": null}}},
 "layer": [
 {"data": {"name": "diag"}, "mark": {"type": "line", "color": "#000", "strokeWidth": 2, "strokeDash": [1.5, 3], "clip": false}, "encoding": {}},
 {"data": {"name": "lines"}, "transform": [{"filter": "datum.p == '2,7' && datum.r == 500"}, {"flatten": ["x", "y"]}], "mark": {"type": "tick", "orient": "horizontal", "size": 8, "thickness": 3, "opacity": 0.45}, "encoding": {"fill": {"field": "c", "type": "nominal", "legend": null}}},
 {"data": {"name": "lines"}, "transform": [{"filter": "datum.p == '2,7' && datum.r == 500"}, {"flatten": ["x", "y"]}], "mark": {"type": "line", "strokeWidth": 3}, "encoding": {"stroke": {"field": "c", "type": "nominal", "legend": null}}}
 ]},
{"width": 151, "height": 83, "encoding": {"x": {"field": "x", "type": "quantitative", "scale": {"domain": [0, 20], "nice": false}, "axis": {"orient": "top", "values": [0,5,10,15,20], "tickSize": 8, "labels": false, "title": null}}, "y": {"field": "y", "type": "quantitative", "scale": {"domain": [0, 15], "nice": false}, "axis": {"orient": "right", "values": [0,5,10,15], "tickSize": 5, "labels": false, "title": null}}},
 "layer": [
 {"data": {"name": "diag"}, "mark": {"type": "line", "color": "#000", "strokeWidth": 2, "strokeDash": [1.5, 3], "clip": false}, "encoding": {}},
 {"data": {"name": "lines"}, "transform": [{"filter": "datum.p == '2,7' && datum.r == 1000"}, {"flatten": ["x", "y"]}], "mark": {"type": "tick", "orient": "horizontal", "size": 8, "thickness": 3, "opacity": 0.45}, "encoding": {"fill": {"field": "c", "type": "nominal", "legend": null}}},
 {"data": {"name": "lines"}, "transform": [{"filter": "datum.p == '2,7' && datum.r == 1000"}, {"flatten": ["x", "y"]}], "mark": {"type": "line", "strokeWidth": 3}, "encoding": {"stroke": {"field": "c", "type": "nominal", "legend": null}}}
 ]},
{"width": 151, "height": 83, "encoding": {"x": {"field": "x", "type": "quantitative", "scale": {"domain": [0, 20], "nice": false}, "axis": {"orient": "top", "values": [0,5,10,15,20], "tickSize": 8, "labels": false, "title": null}}, "y": {"field": "y", "type": "quantitative", "scale": {"domain": [0, 15], "nice": false}, "axis": {"orient": "right", "values": [0,5,10,15], "tickSize": 5, "labelPadding": 8, "title": "Hits", "titleAngle": 270, "titlePadding": 25}}},
 "layer": [
 {"data": {"name": "diag"}, "mark": {"type": "line", "color": "#000", "strokeWidth": 2, "strokeDash": [1.5, 3], "clip": false}, "encoding": {}},
 {"data": {"name": "lines"}, "transform": [{"filter": "datum.p == '2,7' && datum.r == 2000"}, {"flatten": ["x", "y"]}], "mark": {"type": "tick", "orient": "horizontal", "size": 8, "thickness": 3, "opacity": 0.45}, "encoding": {"fill": {"field": "c", "type": "nominal", "legend": null}}},
 {"data": {"name": "lines"}, "transform": [{"filter": "datum.p == '2,7' && datum.r == 2000"}, {"flatten": ["x", "y"]}], "mark": {"type": "line", "strokeWidth": 3}, "encoding": {"stroke": {"field": "c", "type": "nominal", "legend": null}}}
 ]},
{"width": 114, "height": 63, "data": {"name": "empty"}, "mark": {"type": "text"}, "encoding": {}},
{"width": 151, "height": 63, "data": {"name": "bars"}, "transform": [{"filter": "datum.p == '2,7' && datum.r == 500"}], "encoding": {"x": {"field": "c", "type": "nominal", "scale": {"paddingInner": 0.17, "paddingOuter": 0.05}, "axis": null}},
 "layer": [
 {"mark": {"type": "bar"}, "encoding": {"y": {"field": "v", "type": "quantitative", "stack": null, "scale": {"domain": [0, 1], "nice": false}, "axis": {"orient": "right", "values": [0,0.25,0.5,0.75,1], "tickCount": 5, "ticks": false, "labels": false, "title": null}}, "color": {"field": "c", "type": "nominal", "title": "Cₛₜₒₚ", "legend": {"symbolType": "M-2,-0.5H2V0.5H-2Z", "labelExpr": "replace(datum.label, '.', '. ')"}}}},
 {"mark": {"type": "rule", "color": "#000", "strokeWidth": 2}, "encoding": {"y": {"field": "lo", "type": "quantitative", "scale": {"domain": [0, 1], "nice": false}, "axis": {"orient": "right", "values": [0,0.25,0.5,0.75,1], "tickCount": 5, "ticks": false, "labels": false, "title": null}}, "y2": {"field": "hi"}}},
 {"mark": {"type": "tick", "orient": "horizontal", "color": "#000", "size": 11, "thickness": 2}, "encoding": {"y": {"field": "lo", "type": "quantitative", "scale": {"domain": [0, 1], "nice": false}, "axis": {"orient": "right", "values": [0,0.25,0.5,0.75,1], "tickCount": 5, "ticks": false, "labels": false, "title": null}}}},
 {"mark": {"type": "tick", "orient": "horizontal", "color": "#000", "size": 11, "thickness": 2}, "encoding": {"y": {"field": "hi", "type": "quantitative", "scale": {"domain": [0, 1], "nice": false}, "axis": {"orient": "right", "values": [0,0.25,0.5,0.75,1], "tickCount": 5, "ticks": false, "labels": false, "title": null}}}},
 {"mark": {"type": "text", "baseline": "alphabetic"}, "encoding": {"y": {"datum": 0.87, "type": "quantitative", "scale": {"domain": [0, 1], "nice": false}, "axis": {"orient": "right", "values": [0,0.25,0.5,0.75,1], "tickCount": 5, "ticks": false, "labels": false, "title": null}}, "text": {"field": "s"}}}
 ]},
{"width": 151, "height": 63, "data": {"name": "bars"}, "transform": [{"filter": "datum.p == '2,7' && datum.r == 1000"}], "encoding": {"x": {"field": "c", "type": "nominal", "scale": {"paddingInner": 0.17, "paddingOuter": 0.05}, "axis": null}},
 "layer": [
 {"mark": {"type": "bar"}, "encoding": {"y": {"field": "v", "type": "quantitative", "stack": null, "scale": {"domain": [0, 1], "nice": false}, "axis": {"orient": "right", "values": [0,0.25,0.5,0.75,1], "tickCount": 5, "ticks": false, "labels": false, "title": null}}, "color": {"field": "c", "type": "nominal", "title": "Cₛₜₒₚ", "legend": {"symbolType": "M-2,-0.5H2V0.5H-2Z", "labelExpr": "replace(datum.label, '.', '. ')"}}}},
 {"mark": {"type": "rule", "color": "#000", "strokeWidth": 2}, "encoding": {"y": {"field": "lo", "type": "quantitative", "scale": {"domain": [0, 1], "nice": false}, "axis": {"orient": "right", "values": [0,0.25,0.5,0.75,1], "tickCount": 5, "ticks": false, "labels": false, "title": null}}, "y2": {"field": "hi"}}},
 {"mark": {"type": "tick", "orient": "horizontal", "color": "#000", "size": 11, "thickness": 2}, "encoding": {"y": {"field": "lo", "type": "quantitative", "scale": {"domain": [0, 1], "nice": false}, "axis": {"orient": "right", "values": [0,0.25,0.5,0.75,1], "tickCount": 5, "ticks": false, "labels": false, "title": null}}}},
 {"mark": {"type": "tick", "orient": "horizontal", "color": "#000", "size": 11, "thickness": 2}, "encoding": {"y": {"field": "hi", "type": "quantitative", "scale": {"domain": [0, 1], "nice": false}, "axis": {"orient": "right", "values": [0,0.25,0.5,0.75,1], "tickCount": 5, "ticks": false, "labels": false, "title": null}}}},
 {"mark": {"type": "text", "baseline": "alphabetic"}, "encoding": {"y": {"datum": 0.87, "type": "quantitative", "scale": {"domain": [0, 1], "nice": false}, "axis": {"orient": "right", "values": [0,0.25,0.5,0.75,1], "tickCount": 5, "ticks": false, "labels": false, "title": null}}, "text": {"field": "s"}}}
 ]},
{"width": 151, "height": 63, "data": {"name": "bars"}, "transform": [{"filter": "datum.p == '2,7' && datum.r == 2000"}], "encoding": {"x": {"field": "c", "type": "nominal", "scale": {"paddingInner": 0.17, "paddingOuter": 0.05}, "axis": null}},
 "layer": [
 {"mark": {"type": "bar"}, "encoding": {"y": {"field": "v", "type": "quantitative", "stack": null, "scale": {"domain": [0, 1], "nice": false}, "axis": {"orient": "right", "values": [0,0.25,0.5,0.75,1], "tickCount": 5, "ticks": false, "format": ".0%", "labelFontSize": 14, "labelOverlap": false, "labelPadding": 17, "title": "Hits", "titleAngle": 270, "titlePadding": 28}}, "color": {"field": "c", "type": "nominal", "title": "Cₛₜₒₚ", "legend": {"symbolType": "M-2,-0.5H2V0.5H-2Z", "labelExpr": "replace(datum.label, '.', '. ')"}}}},
 {"mark": {"type": "rule", "color": "#000", "strokeWidth": 2}, "encoding": {"y": {"field": "lo", "type": "quantitative", "scale": {"domain": [0, 1], "nice": false}, "axis": {"orient": "right", "values": [0,0.25,0.5,0.75,1], "tickCount": 5, "ticks": false, "format": ".0%", "labelFontSize": 14, "labelOverlap": false, "labelPadding": 17, "title": "Hits", "titleAngle": 270, "titlePadding": 28}}, "y2": {"field": "hi"}}},
 {"mark": {"type": "tick", "orient": "horizontal", "color": "#000", "size": 11, "thickness": 2}, "encoding": {"y": {"field": "lo", "type": "quantitative", "scale": {"domain": [0, 1], "nice": false}, "axis": {"orient": "right", "values": [0,0.25,0.5,0.75,1], "tickCount": 5, "ticks": false, "format": ".0%", "labelFontSize": 14, "labelOverlap": false, "labelPadding": 17, "title": "Hits", "titleAngle": 270, "titlePadding": 28}}}},
 {"mark": {"type": "tick", "orient": "horizontal", "color": "#000", "size": 11, "thickness": 2}, "encoding": {"y": {"field": "hi", "type": "quantitative", "scale": {"domain": [0, 1], "nice": false}, "axis": {"orient": "right", "values": [0,0.25,0.5,0.75,1], "tickCount": 5, "ticks": false, "format": ".0%", "labelFontSize": 14, "labelOverlap": false, "labelPadding": 17, "title": "Hits", "titleAngle": 270, "titlePadding": 28}}}},
 {"mark": {"type": "text", "baseline": "alphabetic"}, "encoding": {"y": {"datum": 0.87, "type": "quantitative", "scale": {"domain": [0, 1], "nice": false}, "axis": {"orient": "right", "values": [0,0.25,0.5,0.75,1], "tickCount": 5, "ticks": false, "format": ".0%", "labelFontSize": 14, "labelOverlap": false, "labelPadding": 17, "title": "Hits", "titleAngle": 270, "titlePadding": 28}}, "text": {"field": "s"}}}
 ]}
]
}
